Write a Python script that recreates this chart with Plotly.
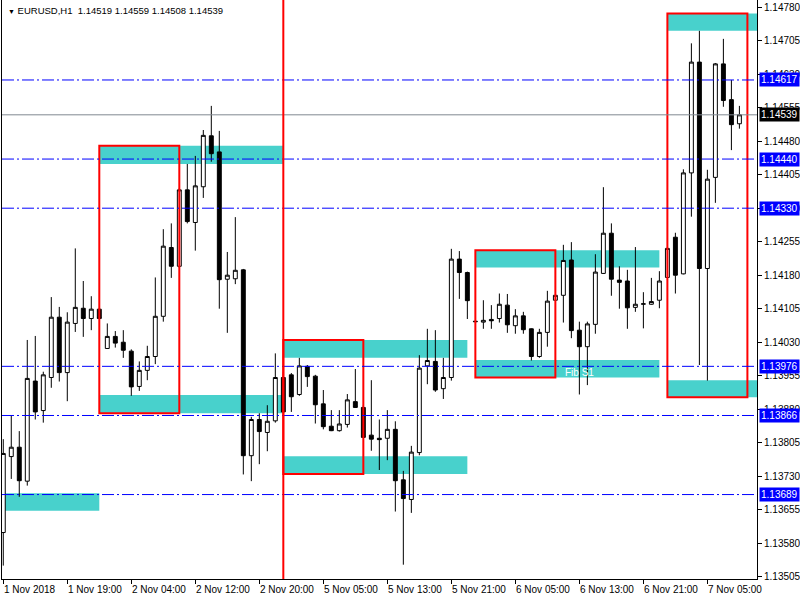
"""EURUSD H1 chart with supply/demand zones, rebuilt in Plotly."""

import plotly.graph_objects as go

# one entry per H1 bar, oldest first
opens = [1.13604, 1.13774, 1.13795, 1.13719, 1.13943, 1.13877, 1.13951, 1.14086, 1.13962, 1.14072,
         1.14106, 1.14083, 1.14104, 1.14016, 1.14043, 1.14030, 1.14010, 1.13931, 1.13967, 1.13998,
         1.14088, 1.14242, 1.14200, 1.14371, 1.14298, 1.14378, 1.14492, 1.14456, 1.14171, 1.14172,
         1.14192, 1.13776, 1.13857, 1.13828, 1.13854, 1.13951, 1.13957, 1.13913, 1.13976, 1.13954,
         1.13892, 1.13842, 1.13832, 1.13846, 1.13897, 1.13884, 1.13822, 1.13815, 1.13815, 1.13835,
         1.13722, 1.13678, 1.13783, 1.13977, 1.13987, 1.13926, 1.13951, 1.14216, 1.14186, 1.14077,
         1.14075, 1.14081, 1.14083, 1.14113, 1.14067, 1.14089, 1.14060, 1.13998, 1.14052, 1.14124,
         1.14135, 1.14214, 1.14057, 1.14020, 1.14070, 1.14184, 1.14274, 1.14169, 1.14167, 1.14108,
         1.14115, 1.14115, 1.14124, 1.14175, 1.14265, 1.14183, 1.14409, 1.14657, 1.14195, 1.14399,
         1.14653, 1.14573, 1.14519]
highs = [1.13813, 1.13867, 1.13831, 1.14035, 1.14044, 1.13964, 1.14131, 1.14109, 1.14097, 1.14240,
         1.14167, 1.14133, 1.14107, 1.14072, 1.14055, 1.14057, 1.14014, 1.13987, 1.14022, 1.14175,
         1.14283, 1.14296, 1.14375, 1.14429, 1.14447, 1.14505, 1.14559, 1.14503, 1.14232, 1.14310,
         1.14194, 1.13863, 1.13871, 1.13889, 1.14005, 1.13963, 1.13961, 1.13995, 1.13979, 1.13957,
         1.13923, 1.13878, 1.13878, 1.13914, 1.13970, 1.13889, 1.13945, 1.13857, 1.13878, 1.13853,
         1.13742, 1.13798, 1.14001, 1.14060, 1.14057, 1.13995, 1.14239, 1.14234, 1.14188, 1.14078,
         1.14124, 1.14113, 1.14139, 1.14138, 1.14104, 1.14098, 1.14061, 1.14060, 1.14145, 1.14135,
         1.14248, 1.14254, 1.14076, 1.14076, 1.14227, 1.14377, 1.14296, 1.14200, 1.14192, 1.14243,
         1.14142, 1.14174, 1.14189, 1.14243, 1.14275, 1.14417, 1.14699, 1.14727, 1.14416, 1.14655,
         1.14709, 1.14617, 1.14559]
lows = [1.13530, 1.13724, 1.13684, 1.13709, 1.13857, 1.13850, 1.13928, 1.13942, 1.13898, 1.14053,
        1.14042, 1.14057, 1.14082, 1.14015, 1.14018, 1.13995, 1.13910, 1.13921, 1.13945, 1.13981,
        1.14076, 1.14174, 1.14196, 1.14296, 1.14235, 1.14353, 1.14434, 1.14105, 1.14051, 1.14160,
        1.13734, 1.13719, 1.13757, 1.13786, 1.13850, 1.13872, 1.13874, 1.13910, 1.13930, 1.13848,
        1.13835, 1.13831, 1.13830, 1.13839, 1.13883, 1.13816, 1.13787, 1.13744, 1.13766, 1.13651,
        1.13532, 1.13648, 1.13777, 1.13936, 1.13919, 1.13903, 1.13944, 1.14127, 1.14082, 1.14075,
        1.14060, 1.14060, 1.14074, 1.14051, 1.14049, 1.14049, 1.13989, 1.13995, 1.14020, 1.14124,
        1.14074, 1.14039, 1.13913, 1.13934, 1.14049, 1.14183, 1.14134, 1.14105, 1.14060, 1.14098,
        1.14061, 1.14114, 1.14106, 1.14174, 1.14139, 1.14182, 1.14311, 1.13979, 1.13944, 1.14342,
        1.14557, 1.14460, 1.14508]
closes = [1.13781, 1.13795, 1.13720, 1.13949, 1.13874, 1.13957, 1.14086, 1.13962, 1.14075, 1.14108,
          1.14083, 1.14104, 1.14083, 1.14043, 1.14028, 1.14012, 1.13930, 1.13967, 1.13998, 1.14088,
          1.14245, 1.14200, 1.14371, 1.14300, 1.14380, 1.14493, 1.14452, 1.14170, 1.14180, 1.14191,
          1.13776, 1.13857, 1.13830, 1.13853, 1.13951, 1.13874, 1.13908, 1.13977, 1.13953, 1.13890,
          1.13841, 1.13832, 1.13847, 1.13901, 1.13884, 1.13817, 1.13813, 1.13812, 1.13835, 1.13720,
          1.13680, 1.13784, 1.13972, 1.13989, 1.13923, 1.13951, 1.14216, 1.14186, 1.14123, 1.14076,
          1.14079, 1.14078, 1.14115, 1.14069, 1.14089, 1.14058, 1.13998, 1.14052, 1.14122, 1.14135,
          1.14213, 1.14056, 1.14020, 1.14071, 1.14187, 1.14274, 1.14171, 1.14164, 1.14107, 1.14115,
          1.14116, 1.14121, 1.14167, 1.14240, 1.14180, 1.14409, 1.14657, 1.14195, 1.14395, 1.14653,
          1.14571, 1.14517, 1.14539]

# time axis labels, one every 8 bars
time_tick_bars = [0, 8, 16, 24, 32, 40, 48, 56, 64, 72, 80, 88]
time_tick_labels = ['1 Nov 2018', '1 Nov 19:00', '2 Nov 04:00', '2 Nov 12:00', '2 Nov 20:00',
                    '5 Nov 05:00', '5 Nov 13:00', '5 Nov 21:00', '6 Nov 05:00', '6 Nov 13:00',
                    '6 Nov 21:00', '7 Nov 05:00']

price_ticks = [1.13505, 1.13580, 1.13655, 1.13730, 1.13805, 1.13880, 1.13955, 1.14030, 1.14105,
               1.14180, 1.14255, 1.14330, 1.14405, 1.14480, 1.14555, 1.14630, 1.14705, 1.14780]

# horizontal levels (blue dash-dot) and last price
levels = [1.14617, 1.14440, 1.14330, 1.13976, 1.13866, 1.13689]
last_price = 1.14539
separator_bar = 35

# turquoise zones: start bar, end bar, top, bottom
zone_start = [-11, 12, 12, 35, 35, 59, 59, 83, 83]
zone_end = [12, 35, 35, 58, 58, 82, 82, 106, 106]
zone_top = [1.13692, 1.14470, 1.13912, 1.14035, 1.13775, 1.14236, 1.13990, 1.14766, 1.13945]
zone_bottom = [1.13653, 1.14429, 1.13871, 1.13995, 1.13735, 1.14197, 1.13951, 1.14727, 1.13907]

# red range boxes
box_start = [12, 35, 59, 83]
box_end = [22, 45, 69, 93]
box_top = [1.14470, 1.14035, 1.14236, 1.14766]
box_bottom = [1.13871, 1.13735, 1.13951, 1.13907]

fib_label = 'Fib S1'
fib_bar = 70
fib_price = 1.13963

FONT = 'Liberation Sans Narrow, Liberation Sans, Arial, sans-serif'

bars = list(range(len(opens)))

fig = go.Figure()

fig.add_trace(go.Candlestick(
    x=bars, open=opens, high=highs, low=lows, close=closes,
    increasing=dict(line=dict(color='black', width=1), fillcolor='white'),
    decreasing=dict(line=dict(color='black', width=1), fillcolor='black'),
    whiskerwidth=0,
    hoverinfo='skip',
    showlegend=False,
))

shapes = []
for x0, x1, top, bot in zip(zone_start, zone_end, zone_top, zone_bottom):
    shapes.append(dict(type='rect', xref='x', yref='y', x0=x0, x1=x1, y0=bot, y1=top,
                       fillcolor='#48D1CC', line=dict(width=0), layer='below'))
for x0, x1, top, bot in zip(box_start, box_end, box_top, box_bottom):
    shapes.append(dict(type='rect', xref='x', yref='y', x0=x0, x1=x1, y0=bot, y1=top,
                       line=dict(color='#FF0000', width=2), layer='above'))
for lv in levels:
    shapes.append(dict(type='line', xref='paper', yref='y', x0=0, x1=1, y0=lv, y1=lv,
                       line=dict(color='#0000FF', width=1, dash='12px,3px,2px,3px'),
                       layer='above'))
shapes.append(dict(type='line', xref='paper', yref='y', x0=0, x1=1, y0=last_price, y1=last_price,
                   line=dict(color='#808890', width=1), layer='above'))
shapes.append(dict(type='line', xref='x', yref='paper', x0=separator_bar, x1=separator_bar,
                   y0=0, y1=1, line=dict(color='#FF0000', width=2), layer='above'))

annotations = []
for b, lab in zip(time_tick_bars, time_tick_labels):
    annotations.append(dict(x=b, y=0, xref='x', yref='paper', text=lab, showarrow=False,
                            xanchor='left', yanchor='top', xshift=-1, yshift=-3,
                            font=dict(family=FONT, size=10, color='black')))
for lv in levels:
    annotations.append(dict(x=1, y=lv, xref='paper', yref='y', text=f'{lv:.5f}',
                            showarrow=False, xanchor='left', yanchor='middle', xshift=2,
                            bgcolor='#0000FF', borderpad=1,
                            font=dict(family=FONT, size=10, color='white')))
annotations.append(dict(x=1, y=last_price, xref='paper', yref='y', text=f'{last_price:.5f}',
                        showarrow=False, xanchor='left', yanchor='middle', xshift=2,
                        bgcolor='black', borderpad=1,
                        font=dict(family=FONT, size=10, color='white')))
annotations.append(dict(x=fib_bar, y=fib_price, xref='x', yref='y', text=fib_label,
                        showarrow=False, xanchor='left', yanchor='middle',
                        font=dict(family=FONT, size=10, color='white')))
title = ('<span style="font-size:7px">\u25bc</span>\u00a0EURUSD,H1\u00a0\u00a0'
         f'{opens[-1]:.5f} {highs[-1]:.5f} {lows[-1]:.5f} {closes[-1]:.5f}')
annotations.append(dict(x=0, y=1, xref='paper', yref='paper', text=title, showarrow=False,
                        xanchor='left', yanchor='top', xshift=4, yshift=-3,
                        font=dict(family=FONT, size=9.5, color='black')))

fig.update_layout(
    width=800, height=600,
    paper_bgcolor='white',
    plot_bgcolor='white',
    margin=dict(l=2, r=43, t=0, b=21),
    showlegend=False,
    shapes=shapes,
    annotations=annotations,
    xaxis=dict(
        range=[-0.16, 94.2],
        rangeslider=dict(visible=False),
        showgrid=False, zeroline=False,
        showline=True, linecolor='black', linewidth=1,
        tickvals=time_tick_bars, showticklabels=False,
        ticks='outside', ticklen=4, tickcolor='black',
    ),
    yaxis=dict(
        side='right',
        range=[1.13500, 1.14796],
        showgrid=False, zeroline=False,
        showline=True, linecolor='black', linewidth=1, mirror=True,
        tickvals=price_ticks, ticktext=[f'{p:.5f}' for p in price_ticks],
        ticks='outside', ticklen=4, tickcolor='black',
        tickfont=dict(family=FONT, size=10, color='black'),
    ),
)

# the page's default body margin would push the 800x600 figure off the window
fig.write_html('out.html', config={'displayModeBar': False},
               post_script="document.body.style.margin = '0';")
